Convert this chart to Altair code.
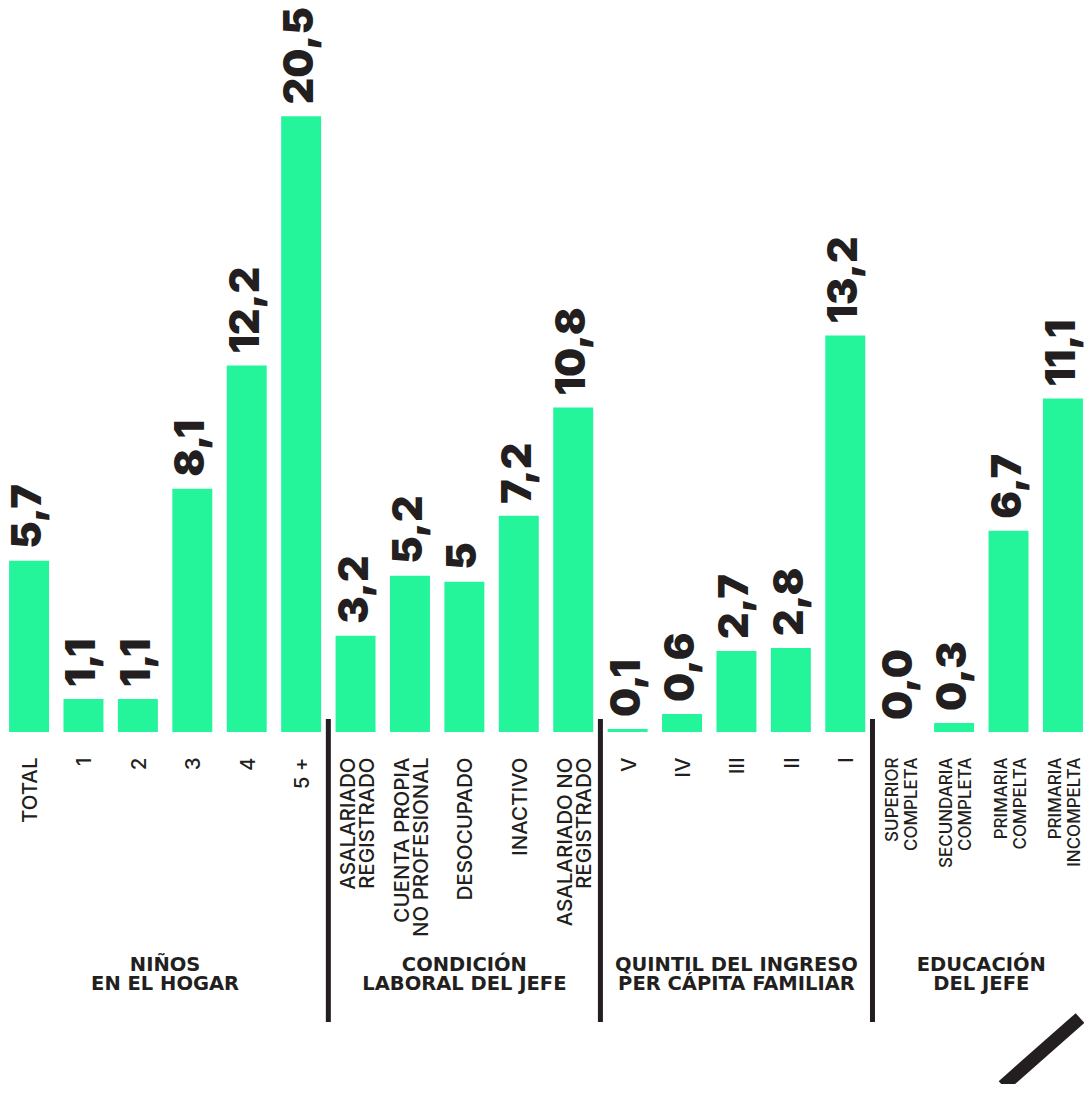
import altair as alt
import pandas as pd

categories = ["TOTAL", "1", "2", "3", "4", "5 +",
              "ASALARIADO\nREGISTRADO", "CUENTA PROPIA\nNO PROFESIONAL", "DESOCUPADO", "INACTIVO",
              "ASALARIADO NO\nREGISTRADO",
              "V", "IV", "III", "II", "I",
              "SUPERIOR\nCOMPLETA", "SECUNDARIA\nCOMPLETA", "PRIMARIA\nCOMPELTA", "PRIMARIA\nINCOMPELTA"]
values = [5.7, 1.1, 1.1, 8.1, 12.2, 20.5,
          3.2, 5.2, 5.0, 7.2, 10.8,
          0.1, 0.6, 2.7, 2.8, 13.2,
          0.0, 0.3, 6.7, 11.1]
value_labels = ["5,7", "1,1", "1,1", "8,1", "12,2", "20,5",
                "3,2", "5,2", "5", "7,2", "10,8",
                "0,1", "0,6", "2,7", "2,8", "13,2",
                "0,0", "0,3", "6,7", "11,1"]

group_titles = ["NIÑOS\nEN EL HOGAR", "CONDICIÓN\nLABORAL DEL JEFE",
                "QUINTIL DEL INGRESO\nPER CÁPITA FAMILIAR", "EDUCACIÓN\nDEL JEFE"]
group_sizes = [6, 5, 5, 4]

GREEN = "#24F59B"
DARK = "#231F20"

W, H = 1076, 724
PI, PO = 0.2657, 0.02
step = W / (len(categories) - PI + 2 * PO)
gap = PI * step

df = pd.DataFrame({"cat": categories, "value": values, "lab": value_labels})

starts = []
i = 0
for s in group_sizes:
    starts.append(i)
    i += s
sep_df = pd.DataFrame({"cat": [categories[s] for s in starts[1:]]})

odd_rows, even_rows = [], []
for t, s, n in zip(group_titles, starts, group_sizes):
    row = {"cat": categories[s + n // 2], "title": t}
    (odd_rows if n % 2 == 1 else even_rows).append(row)
odd_df = pd.DataFrame(odd_rows)
even_df = pd.DataFrame(even_rows)

xscale = alt.Scale(domain=categories, paddingInner=PI, paddingOuter=PO)
yscale = alt.Scale(domain=[0, 24.1], nice=False, zero=True)

edu_test = "indexof(datum.value, 'COMPLETA') >= 0 || indexof(datum.value, 'COMPELTA') >= 0"
multi_test = "indexof(datum.value, '\\n') >= 0"
x_axis = alt.Axis(title=None, labelAngle=270, labelAlign="right", labelBaseline="middle",
                  labelPadding=25, ticks=False, tickSize=0, domain=False, grid=False,
                  labelFont="Inter",
                  labelFontSize={"condition": {"test": edu_test, "value": 17}, "value": 20.5},
                  labelOffset={"condition": {"test": multi_test, "value": -7}, "value": 2},
                  labelFontWeight=500, labelColor=DARK,
                  labelLineHeight=19, labelExpr="split(datum.value, '\\n')",
                  labelOverlap=False, labelLimit=300)

bars = alt.Chart(df).mark_bar(color=GREEN).encode(
    x=alt.X("cat:N", sort=categories, scale=xscale, axis=x_axis),
    y=alt.Y("value:Q", scale=yscale, axis=None),
)

labels = alt.Chart(df).mark_text(angle=270, align="left", baseline="middle", dx=12,
                                 font="Inter", fontSize=41, fontWeight=900, color=DARK).encode(
    x=alt.X("cat:N", sort=categories, scale=xscale),
    y=alt.Y("value:Q", scale=yscale),
    text="lab:N",
)

seps = alt.Chart(sep_df).mark_rule(color=DARK, strokeWidth=5, xOffset=-gap / 2).encode(
    x=alt.X("cat:N", sort=categories, scale=xscale, bandPosition=0),
    y=alt.value(711),
    y2=alt.value(1014),
)

title_kw = dict(align="center", baseline="top", lineBreak="\n", font="DejaVu Sans", fontSize=19.5,
                fontWeight="bold", color=DARK, lineHeight=19)
titles_odd = alt.Chart(odd_df).mark_text(**title_kw).encode(
    x=alt.X("cat:N", sort=categories, scale=xscale),
    y=alt.value(948),
    text="title:N",
)
titles_even = alt.Chart(even_df).mark_text(xOffset=-gap / 2, **title_kw).encode(
    x=alt.X("cat:N", sort=categories, scale=xscale, bandPosition=0),
    y=alt.value(948),
    text="title:N",
)

slash = alt.Chart(pd.DataFrame({"k": [0]})).mark_rule(color=DARK, strokeWidth=13, strokeCap="butt").encode(
    x=alt.value(995), y=alt.value(1078), x2=alt.value(1072), y2=alt.value(1010)
)

chart = alt.layer(bars, labels, seps, titles_odd, titles_even, slash).properties(
    width=W, height=H,
    autosize=alt.AutoSizeParams(type="none"),
    padding={"left": 0, "top": 0, "right": 0, "bottom": 352},
).configure_view(stroke=None)

chart.save("out.html", embed_options={"renderer": "svg", "actions": False})
